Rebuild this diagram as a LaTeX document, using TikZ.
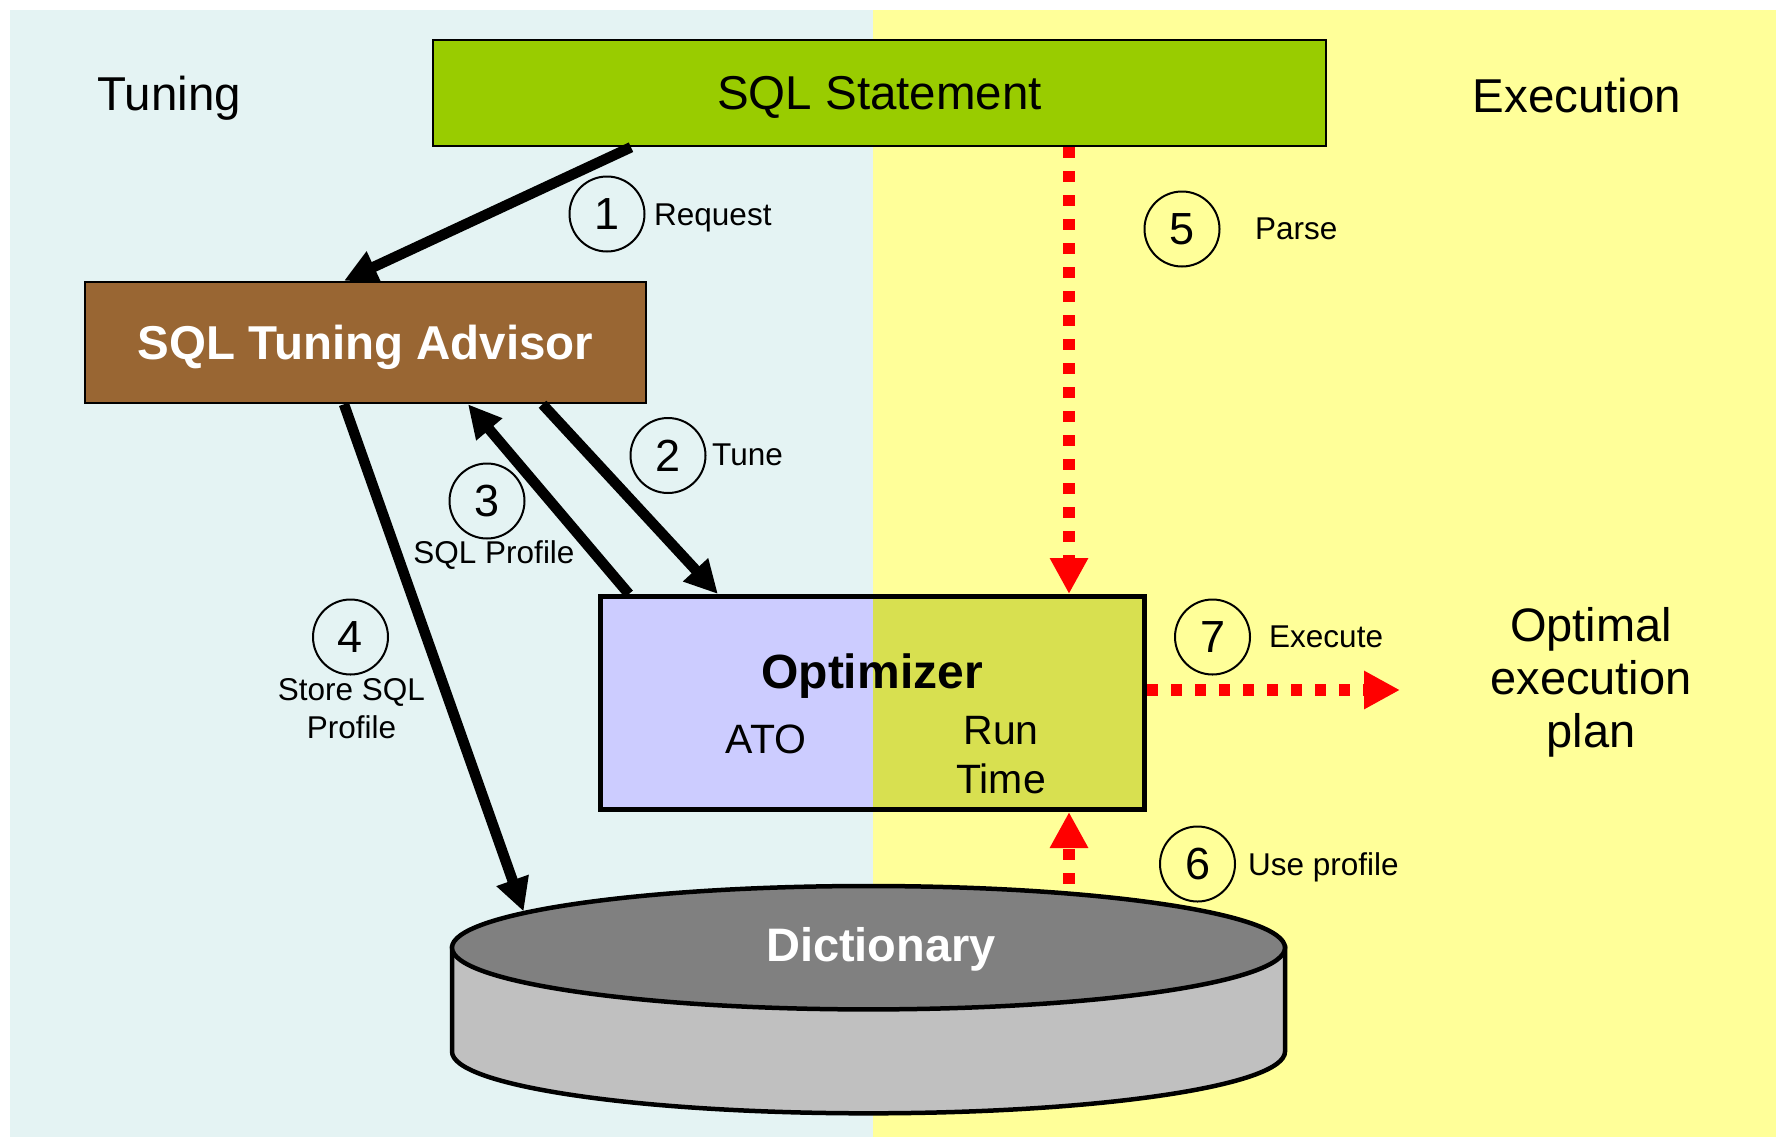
\documentclass[tikz,border=0pt]{standalone}
\usepackage{fontspec}
\setmainfont{Liberation Sans}
\usetikzlibrary{arrows.meta,shapes.geometric}

\definecolor{tunebg}{HTML}{E4F3F3}
\definecolor{execbg}{HTML}{FFFF99}
\definecolor{sqlgreen}{HTML}{99CC00}
\definecolor{advbrown}{HTML}{996633}
\definecolor{optlav}{HTML}{CCCCFF}
\definecolor{optgreen}{HTML}{D8E050}
\definecolor{dicttop}{HTML}{808080}
\definecolor{dictside}{HTML}{C0C0C0}

\tikzset{
  txt/.style={inner sep=0},
  big/.style={font=\fontsize{47.5}{53}\selectfont},
  lab/.style={font=\fontsize{31.5}{37.5}\selectfont},
  boxed/.style={draw, line width=2.5, inner sep=0},
  num/.style={circle, draw, line width=2, minimum size=75, inner sep=0,
    font=\fontsize{45}{45}\selectfont},
  blk/.style={line width=10.5, -{Triangle[length=33pt,width=32pt]}},
  reddash/.style={draw=red, line width=12, dash pattern=on 11pt off 13pt,
    -{Triangle[length=36pt,width=36pt]}}
}

\begin{document}
\begin{tikzpicture}[x=1pt,y=-1pt]
\useasboundingbox (0,0) rectangle (1776,1138);

% two halves of the background
\fill[white] (0,0) rectangle (1776,1138);
\fill[tunebg] (10,10) rectangle (873,1137);
\fill[execbg] (873,10) rectangle (1776,1137);

% section titles
\node[txt, big, anchor=base west] (tuning) at (97.5,110) {Tuning};
\node[txt, big, anchor=base west] (execution) at (1472.5,112) {Execution};

% boxes
\node[boxed, fill=sqlgreen, minimum width=893, minimum height=106,
  text depth=0pt, big] (sql) at (879.5,93) {SQL Statement};
\node[boxed, fill=advbrown, minimum width=561, minimum height=121,
  text depth=0pt, text=white, font=\bfseries\fontsize{47.5}{54}\selectfont]
  (adv) at (365.5,342.5) {SQL Tuning Advisor};
\node[draw, line width=5, minimum width=544, minimum height=213, inner sep=0,
  path picture={
    \fill[optlav] (path picture bounding box.south west) rectangle (path picture bounding box.north);
    \fill[optgreen] (path picture bounding box.north) rectangle (path picture bounding box.south east);
  }] (opt) at (872.5,703) {};
\node[txt, anchor=base, font=\bfseries\fontsize{48}{52}\selectfont] (optname) at (872,688) {Optimizer};
\node[txt, anchor=base, font=\fontsize{41}{49}\selectfont] (ato) at (766,753) {ATO};
\node[txt, anchor=base, font=\fontsize{41}{49}\selectfont, align=center] (runtime) at (1001,793) {Run\\Time};

% dictionary cylinder
\fill[dictside, draw=black, line width=4.5] (452,947.7) -- (452,1051.6)
  arc[start angle=180, end angle=0, x radius=416.5, y radius=61.7] -- (1285,947.7) -- cycle;
\node[ellipse, draw, line width=4.5, fill=dicttop, minimum width=833, minimum height=123.4,
  inner sep=0] (dict) at (868.5,947.7) {};
\node[txt, anchor=base, text=white, font=\bfseries\fontsize{47}{54}\selectfont]
  (dictname) at (881,961) {Dictionary};

% result
\node[txt, anchor=base, align=center, font=\fontsize{47}{53}\selectfont]
  (plan) at (1591,747.5) {Optimal\\execution\\plan};

% tuning flow
\draw[blk] ([xshift=-248.5]sql.south) -- ([xshift=-21.5]adv.north);
\draw[blk] ([xshift=177]adv.south) -- ([xshift=-154.6]opt.north);
\draw[blk] ([xshift=-243.6]opt.north) -- ([xshift=102.5]adv.south);
\draw[blk] ([xshift=-21.5]adv.south) -- (dict.174);

% execution flow
\coordinate (px) at (1069,0);
\coordinate (exectip) at (1400,690);
\draw[reddash] (sql.south -| px) -- (opt.north -| px);
\draw[reddash] (dict.north -| px) -- (opt.south -| px);
\draw[reddash] (opt.east |- exectip) -- (exectip);

% step markers and labels
\node[num] (n1) at (607,214) {1};
\node[num] (n2) at (668,455.5) {2};
\node[num] (n3) at (487,501) {3};
\node[num] (n4) at (350.5,637) {4};
\node[num] (n5) at (1182,229) {5};
\node[num] (n6) at (1197.5,864) {6};
\node[num] (n7) at (1212.5,637) {7};

\node[txt, lab, anchor=base west] (lreq) at (654,225) {Request};
\node[txt, lab, anchor=base west] (ltune) at (712,465) {Tune};
\node[txt, lab, anchor=base] (lprof) at (494,563) {SQL Profile};
\node[txt, lab, anchor=base, align=center] (lstore) at (351.5,738) {Store SQL\\Profile};
\node[txt, lab, anchor=base west] (lparse) at (1255,239) {Parse};
\node[txt, lab, anchor=base west] (lexec) at (1269,647) {Execute};
\node[txt, lab, anchor=base west] (luse) at (1248,875) {Use profile};
\end{tikzpicture}
\end{document}
